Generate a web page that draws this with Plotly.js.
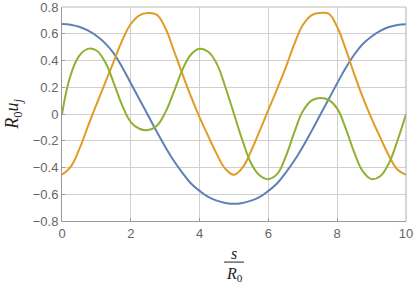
<!DOCTYPE html>
<html>
<head>
<meta charset="utf-8">
<script src="https://cdn.plot.ly/plotly-3.0.1.min.js"></script>
<style>html,body{margin:0;padding:0;background:#fff;}#chart{width:415px;height:284px;}</style>
</head>
<body>
<div id="chart"></div>
<script>
// s / R0 sample positions
const s = [0,0.25,0.5,0.75,1,1.25,1.5,1.75,2,2.25,2.5,2.75,3,3.25,3.5,3.75,4,4.25,4.5,4.75,5,
           5.25,5.5,5.75,6,6.25,6.5,6.75,7,7.25,7.5,7.75,8,8.25,8.5,8.75,9,9.25,9.5,9.75,10];
// R0 u_j values
const blue = [0.673,0.668,0.652,0.625,0.585,0.53,0.455,0.35,0.23,0.11,-0.01,-0.13,-0.245,-0.35,-0.44,-0.52,-0.575,-0.62,-0.648,-0.665,-0.672,
              -0.665,-0.648,-0.62,-0.575,-0.52,-0.44,-0.35,-0.245,-0.13,-0.01,0.11,0.23,0.345,0.445,0.525,0.58,0.622,0.65,0.666,0.672];
const orange = [-0.454,-0.395,-0.265,-0.095,0.07,0.23,0.39,0.55,0.673,0.738,0.755,0.743,0.645,0.475,0.3,0.13,-0.025,-0.165,-0.30,-0.41,-0.454,
                -0.40,-0.275,-0.125,0.03,0.185,0.345,0.52,0.665,0.738,0.755,0.75,0.65,0.483,0.295,0.12,-0.035,-0.175,-0.31,-0.415,-0.454];
const green = [0,0.29,0.435,0.487,0.475,0.39,0.235,0.065,-0.06,-0.11,-0.12,-0.09,0.01,0.165,0.33,0.445,0.488,0.465,0.375,0.2,0.0,
               -0.2,-0.37,-0.46,-0.487,-0.45,-0.32,-0.14,0.02,0.1,0.12,0.105,0.04,-0.11,-0.29,-0.43,-0.487,-0.465,-0.37,-0.2,0];
const xTicks = [0,2,4,6,8,10];
const yTicks = [-0.8,-0.6,-0.4,-0.2,0,0.2,0.4,0.6,0.8];
const yTickText = ['\u22120.8','\u22120.6','\u22120.4','\u22120.2','0','0.2','0.4','0.6','0.8'];

const colors = ['#5E81B5','#E19C24','#8FB032'];
const series = [blue, orange, green];
const traces = series.map((ys, i) => ({
  x: s, y: ys, type: 'scatter', mode: 'lines',
  line: {color: colors[i], width: 2, shape: 'spline', smoothing: 1.2},
  hoverinfo: 'skip', showlegend: false
}));

const serif = '"Liberation Serif", "DejaVu Serif", serif';
const layout = {
  width: 415, height: 284,
  margin: {l: 62, r: 9, t: 7, b: 63},
  paper_bgcolor: '#fff', plot_bgcolor: '#fff',
  font: {family: '"Liberation Sans", Arial, sans-serif', size: 13, color: '#666'},
  xaxis: {
    range: [0, 10.0001], tickvals: xTicks, ticktext: xTicks.map(String),
    showgrid: true, gridcolor: '#d0d0d0', gridwidth: 1, zeroline: false,
    showline: true, linecolor: '#999', linewidth: 1, mirror: false,
    ticks: 'inside', ticklen: 3, tickcolor: '#999', fixedrange: true,
    ticklabeloverflow: 'allow'
  },
  yaxis: {
    range: [-0.8001, 0.8001], tickvals: yTicks, ticktext: yTickText,
    showgrid: true, gridcolor: '#d0d0d0', gridwidth: 1, zeroline: false,
    showline: true, linecolor: '#999', linewidth: 1, mirror: false,
    ticks: 'inside', ticklen: 3, tickcolor: '#999', fixedrange: true,
    ticklabeloverflow: 'allow'
  },
  shapes: [
    {type: 'line', xref: 'paper', yref: 'paper', x0: 0, x1: 1, y0: 1, y1: 1,
     line: {color: '#bbbbbb', width: 1}, layer: 'above'},
    {type: 'line', xref: 'paper', yref: 'paper', x0: 1, x1: 1, y0: 0, y1: 1,
     line: {color: '#b0b0b0', width: 1}, layer: 'above'},
    {type: 'line', xref: 'paper', yref: 'paper', x0: 0.471, x1: 0.529, y0: -0.192, y1: -0.192,
     line: {color: '#222', width: 1}}
  ],
  annotations: [
    {xref: 'paper', yref: 'paper', x: 0.5, y: -0.15, text: '<i>s</i>', showarrow: false,
     font: {family: serif, size: 16, color: '#222'}, xanchor: 'center', yanchor: 'middle'},
    {xref: 'paper', yref: 'paper', x: 0.5, y: -0.252, text: '<i>R</i><sub>0</sub>', showarrow: false,
     font: {family: serif, size: 16, color: '#222'}, xanchor: 'center', yanchor: 'middle'},
    {xref: 'paper', yref: 'paper', x: -0.143, y: 0.5, text: '<i>R</i><sub>0</sub><i>u</i><sub><i>j</i></sub>',
     showarrow: false, textangle: -90, font: {family: serif, size: 18, color: '#222'},
     xanchor: 'center', yanchor: 'middle'}
  ]
};
Plotly.newPlot('chart', traces, layout, {staticPlot: true, displayModeBar: false});
</script>
</body>
</html>
